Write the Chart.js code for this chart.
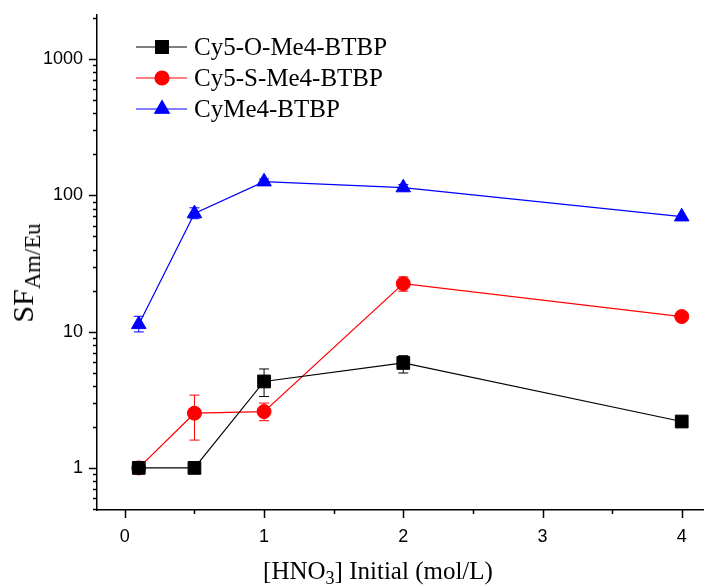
<!DOCTYPE html>
<html>
<head>
<meta charset="utf-8">
<script src="https://cdn.jsdelivr.net/npm/chart.js@4.4.0/dist/chart.umd.min.js"></script>
<style>
  html, body { margin: 0; padding: 0; background: #fff; }
  #wrap { position: relative; width: 704px; height: 588px; }
  .title { position: absolute; font-family: "Liberation Serif", "Times New Roman", serif; color: #000; white-space: nowrap; }
  .title sub { vertical-align: -0.3em; line-height: 0; }
  #xTitle { font-size: 25px; left: 378px; top: 557px; transform: translateX(-50%); }
  #xTitle sub { font-size: 72%; }
  #yTitle { font-size: 30px; left: 23px; top: 273px; transform: translate(-50%, -50%) rotate(-90deg); }
  #yTitle sub { font-size: 76%; }
</style>
</head>
<body>
<div id="wrap">
  <canvas id="sfChart" width="704" height="588"></canvas>
  <div class="title" id="xTitle">[HNO<sub>3</sub>] Initial (mol/L)</div>
  <div class="title" id="yTitle">SF<sub>Am/Eu</sub></div>
</div>
<script>
// Dados
const xValues = [0.1, 0.5, 1, 2, 4];
const seriesNames = ['Cy5-O-Me4-BTBP', 'Cy5-S-Me4-BTBP', 'CyMe4-BTBP'];

const oMe4 = [1.0, 1.0, 4.31, 5.89, 2.19];
const oMe4Low = [1.0, 1.0, 3.34, 4.97, 2.19];
const oMe4High = [1.0, 1.0, 5.32, 6.66, 2.19];

const sMe4 = [1.0, 2.52, 2.59, 22.5, 12.9];
const sMe4Low = [1.0, 1.60, 2.22, 19.8, 12.9];
const sMe4High = [1.0, 3.42, 2.99, 25.2, 12.9];

const cyMe4 = [11.3, 73.5, 126, 114, 69.7];
const cyMe4Low = [9.95, 67.4, 120, 108, 69.7];
const cyMe4High = [12.96, 81, 132, 120, 69.7];

const xTicks = [0, 1, 2, 3, 4];
const yTicks = [1, 10, 100, 1000];

function pts(ys) {
    return xValues.map((x, i) => ({ x: x, y: ys[i] }));
}

// Barras de erro
const errorBars = {
    id: 'errorBars',
    beforeDatasetsDraw(chart) {
        const ctx = chart.ctx, xs = chart.scales.x, ys = chart.scales.y;
        chart.data.datasets.forEach(ds => {
            ctx.save();
            ctx.strokeStyle = ds.borderColor;
            ctx.lineWidth = 1;
            ds.data.forEach((p, i) => {
                const px = xs.getPixelForValue(p.x);
                const top = ys.getPixelForValue(ds.errHigh[i]);
                const bot = ys.getPixelForValue(ds.errLow[i]);
                if (bot - top < 1) return;
                ctx.beginPath();
                ctx.moveTo(px, top); ctx.lineTo(px, bot);
                ctx.moveTo(px - 5, top); ctx.lineTo(px + 5, top);
                ctx.moveTo(px - 5, bot); ctx.lineTo(px + 5, bot);
                ctx.stroke();
            });
            ctx.restore();
        });
    }
};

// Marcas dos eixos (maiores e menores), para fora
const axisTicks = {
    id: 'axisTicks',
    afterDraw(chart) {
        const ctx = chart.ctx, a = chart.chartArea, x = chart.scales.x, y = chart.scales.y;
        ctx.save();
        ctx.strokeStyle = '#000';
        ctx.lineWidth = 1.5;
        ctx.beginPath();
        for (let v = 0; v <= 4; v += 0.5) {
            const px = Math.round(x.getPixelForValue(v)) + 0.5;
            const len = v % 1 === 0 ? 8 : 4;
            ctx.moveTo(px, a.bottom); ctx.lineTo(px, a.bottom + len);
        }
        for (let e = -1; e <= 3; e++) {
            for (let m = 1; m <= 9; m++) {
                const v = m * Math.pow(10, e);
                if (v < y.min || v > y.max) continue;
                const py = Math.round(y.getPixelForValue(v)) + 0.5;
                const len = m === 1 ? 8 : 4;
                ctx.moveTo(a.left, py); ctx.lineTo(a.left - len, py);
            }
        }
        ctx.stroke();
        ctx.restore();
    }
};

// Legenda dentro da área do gráfico
const innerLegend = {
    id: 'innerLegend',
    afterDraw(chart) {
        const ctx = chart.ctx;
        ctx.save();
        chart.data.datasets.forEach((ds, i) => {
            const yy = 47 + i * 31;
            ctx.strokeStyle = ds.borderColor;
            ctx.lineWidth = 1.2;
            ctx.beginPath();
            ctx.moveTo(136, yy); ctx.lineTo(187, yy);
            ctx.stroke();
            ctx.fillStyle = ds.borderColor;
            Chart.helpers.drawPoint(ctx, {
                pointStyle: ds.pointStyle, radius: ds.pointRadius, rotation: 0, borderWidth: 1
            }, 162, yy);
            ctx.fill();
            ctx.fillStyle = '#000';
            ctx.font = '25px "Liberation Serif", "Times New Roman", serif';
            ctx.textBaseline = 'middle';
            ctx.fillText(ds.label, 194, yy + 1);
        });
        ctx.restore();
    }
};

function series(label, color, style, radius, ys, lo, hi) {
    return {
        label: label,
        data: pts(ys),
        errLow: lo,
        errHigh: hi,
        borderColor: color,
        backgroundColor: color,
        borderWidth: 1.2,
        pointStyle: style,
        pointRadius: radius,
        pointHoverRadius: radius,
        pointBackgroundColor: color,
        pointBorderColor: color,
        pointBorderWidth: 1,
        tension: 0
    };
}

const ctx = document.getElementById('sfChart').getContext('2d');
new Chart(ctx, {
    type: 'line',
    data: {
        datasets: [
            series(seriesNames[0], '#000000', 'rect', 9, oMe4, oMe4Low, oMe4High),
            series(seriesNames[1], '#ff0000', 'circle', 7, sMe4, sMe4Low, sMe4High),
            series(seriesNames[2], '#0000ff', 'triangle', 8.4, cyMe4, cyMe4Low, cyMe4High)
        ]
    },
    options: {
        responsive: false,
        animation: false,
        layout: { autoPadding: false, padding: { top: 15, right: 0, left: 0, bottom: 0 } },
        plugins: {
            legend: { display: false },
            tooltip: { enabled: false }
        },
        scales: {
            x: {
                type: 'linear',
                min: -0.2,
                max: 4.16,
                afterBuildTicks: function (scale) {
                    scale.ticks = xTicks.map(v => ({ value: v }));
                },
                afterFit: function (scale) {
                    scale.height = 78;
                    scale.paddingLeft = 0;
                    scale.paddingRight = 0;
                },
                grid: { display: true, drawOnChartArea: false, drawTicks: true, tickLength: 8, tickColor: 'rgba(0,0,0,0)' },
                border: { display: true, color: '#000', width: 1.5 },
                ticks: {
                    autoSkip: false,
                    maxRotation: 0,
                    padding: 8,
                    color: '#000',
                    font: { family: '"Liberation Sans", Arial, sans-serif', size: 18 },
                    callback: function (value) { return String(value); }
                }
            },
            y: {
                type: 'logarithmic',
                min: 0.491,
                max: 2106,
                afterBuildTicks: function (scale) {
                    scale.ticks = yTicks.map(v => ({ value: v }));
                },
                afterFit: function (scale) {
                    scale.width = 97;
                    scale.paddingTop = 0;
                    scale.paddingBottom = 0;
                },
                grid: { display: true, drawOnChartArea: false, drawTicks: true, tickLength: 8, tickColor: 'rgba(0,0,0,0)' },
                border: { display: true, color: '#000', width: 1.5 },
                ticks: {
                    autoSkip: false,
                    padding: 6,
                    color: '#000',
                    font: { family: '"Liberation Sans", Arial, sans-serif', size: 18 },
                    callback: function (value) { return String(value); }
                }
            }
        }
    },
    plugins: [errorBars, axisTicks, innerLegend]
});
</script>
</body>
</html>
